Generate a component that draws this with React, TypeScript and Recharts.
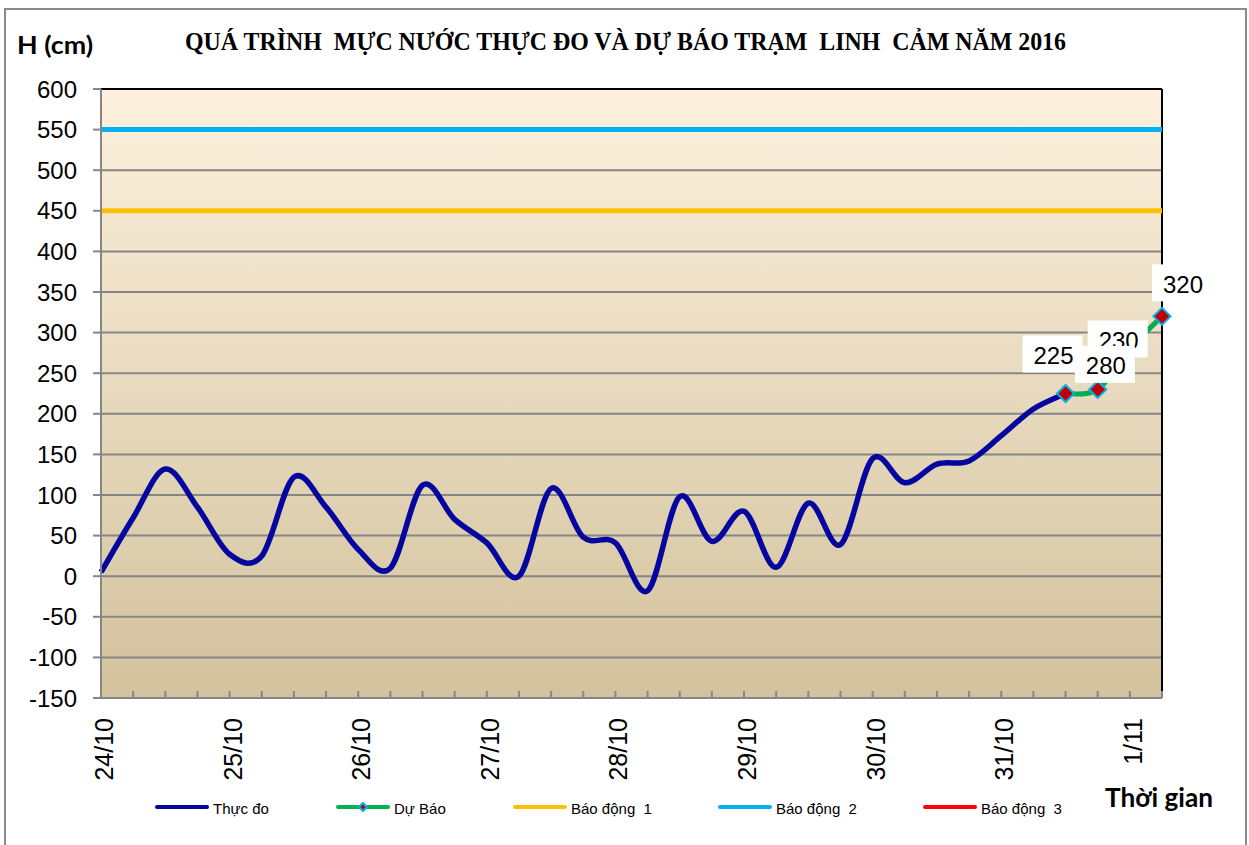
import React from "react";
import {
  LineChart, Line, XAxis, YAxis, CartesianGrid, ReferenceLine, LabelList,
} from "recharts";

// mốc ngày trên trục hoành, 4 lần đo mỗi ngày
const days = ["24/10", "25/10", "26/10", "27/10", "28/10", "29/10", "30/10", "31/10", "1/11"];
const readingsPerDay = 4;

// mực nước thực đo (cm)
const thucDo = [
  5, 72, 132, 85, 27, 25, 122, 85, 33, 10, 112, 70, 41, 0, 108, 48,
  41, -18, 98, 43, 80, 11, 90, 39, 145, 115, 138, 142, 173, 206, 225,
];
// dự báo, nối tiếp từ lần đo cuối
const duBao = [225, 230, 280, 320];

const baoDong1 = 450;
const baoDong2 = 550;
const baoDong3 = 650;

const yTicks = [-150, -100, -50, 0, 50, 100, 150, 200, 250, 300, 350, 400, 450, 500, 550, 600];

const nPoints = thucDo.length - 1 + duBao.length;
const data = Array.from({ length: nPoints }, (_, i) => ({
  i,
  thucDo: i < thucDo.length ? thucDo[i] : null,
  duBao: i >= thucDo.length - 1 ? duBao[i - thucDo.length + 1] : null,
  bd1: baoDong1,
  bd2: baoDong2,
  bd3: baoDong3,
}));
const xTicks = data.map((d) => d.i);

const SERIES = [
  { key: "thucDo", name: "Thực đo", color: "#0505A0" },
  { key: "duBao", name: "Dự Báo", color: "#00B050" },
  { key: "bd1", name: "Báo động  1", color: "#FFC000" },
  { key: "bd2", name: "Báo động  2", color: "#00B0F0" },
  { key: "bd3", name: "Báo động  3", color: "#FF0000" },
];
const legendX = [157, 338, 515, 720, 925];

// label placement tweaks (like the hand-moved Excel labels)
const labelShift: Record<number, [number, number]> = {
  0: [-12, -38],
  1: [21, -49],
  2: [-24, 17],
  3: [21, -32],
};

const FONT = "'Liberation Sans', Arial, sans-serif";
const GRID = "#868686";

// Excel style smoothing (cardinal spline, tension 0)
const excelCurve = (context: any) => {
  let pts: [number, number][] = [];
  return {
    areaStart() {},
    areaEnd() {},
    lineStart() { pts = []; },
    lineEnd() {
      if (!pts.length) return;
      context.moveTo(pts[0][0], pts[0][1]);
      for (let k = 0; k < pts.length - 1; k++) {
        const p0 = pts[Math.max(0, k - 1)];
        const p1 = pts[k];
        const p2 = pts[k + 1];
        const p3 = pts[Math.min(pts.length - 1, k + 2)];
        context.bezierCurveTo(
          p1[0] + (p2[0] - p0[0]) / 6, p1[1] + (p2[1] - p0[1]) / 6,
          p2[0] - (p3[0] - p1[0]) / 6, p2[1] - (p3[1] - p1[1]) / 6,
          p2[0], p2[1],
        );
      }
    },
    point(x: number, y: number) { pts.push([x, y]); },
  };
};

const Diamond = ({ cx, cy, r = 8.5 }: { cx: number; cy: number; r?: number }) => (
  <polygon
    points={`${cx},${cy - r} ${cx + r},${cy} ${cx},${cy + r} ${cx - r},${cy}`}
    fill="#C00000"
    stroke="#00B0F0"
    strokeWidth={2}
  />
);

const renderDot = (p: any) => {
  if (p.cy == null || p.value == null || p.payload?.duBao == null) return <g key={p.key ?? p.index} />;
  return <Diamond key={p.key ?? p.index} cx={p.cx} cy={p.cy} />;
};

const renderLabel = (p: any) => {
  const x = p.x ?? p.viewBox?.x;
  const y = p.y ?? p.viewBox?.y;
  if (p.value == null || x == null || y == null) return null;
  const idx = duBao.indexOf(Number(p.value));
  const [dx, dy] = labelShift[idx] ?? [0, -30];
  const cx = x + dx;
  const cy = y + dy;
  return (
    <g key={`lbl-${p.index}`}>
      <rect x={cx - 31} y={cy - 20} width={60} height={37} fill="#fff" />
      <text x={cx} y={cy + 8.5} textAnchor="middle" fontSize={24} fontFamily={FONT} fill="#000">
        {p.value}
      </text>
    </g>
  );
};

const XTick = ({ x, y, payload }: any) => {
  const i = payload.value;
  const lbl = i % readingsPerDay === 0 ? days[i / readingsPerDay] : null;
  return (
    <g>
      <line x1={x} x2={x} y1={y} y2={y - 7} stroke={GRID} strokeWidth={2} />
      {lbl && (
        <text
          transform={`translate(${x + 12}, ${y + 20}) rotate(-90)`}
          textAnchor="end"
          fontSize={25}
          fontFamily={FONT}
          fill="#000"
        >
          {lbl}
        </text>
      )}
    </g>
  );
};

export default function App() {
  return (
    <div style={{ position: "absolute", left: 0, top: 0, width: 1249, height: 845, background: "#fff", overflow: "hidden" }}>
      <div style={{ position: "absolute", left: 4, top: 8, width: 1239, height: 850, border: "2px solid #8a8a8a" }} />
      <div style={{ position: "absolute", left: 0, top: 0 }}>
        <LineChart width={1249} height={845} data={data} margin={{ top: 89, right: 87, bottom: 0, left: 0 }}>
          <defs>
            <linearGradient id="plotBg" x1="0" y1="0" x2="0" y2="1">
              <stop offset="0%" stopColor="#FDF1DE" />
              <stop offset="100%" stopColor="#D2C29D" />
            </linearGradient>
          </defs>
          <CartesianGrid vertical={false} stroke={GRID} strokeWidth={2} fill="url(#plotBg)" fillOpacity={1} />
          <XAxis
            type="number"
            dataKey="i"
            domain={[0, nPoints - 1]}
            ticks={xTicks}
            interval={0}
            height={147}
            tickSize={0}
            tickMargin={0}
            tickLine={false}
            axisLine={{ stroke: GRID, strokeWidth: 2 }}
            tick={<XTick />}
          />
          <YAxis
            domain={[-150, 600]}
            ticks={yTicks}
            interval={0}
            width={101}
            tickSize={8}
            tickMargin={16}
            tickLine={{ stroke: GRID, strokeWidth: 2 }}
            axisLine={{ stroke: GRID, strokeWidth: 2 }}
            tick={{ fontSize: 24, fill: "#000", fontFamily: FONT }}
          />
          <YAxis yAxisId="bd3" hide domain={[-150, 600]} allowDataOverflow />
          <ReferenceLine y={600} stroke="#000" strokeWidth={2} />
          <ReferenceLine x={nPoints - 1} stroke="#000" strokeWidth={2} />
          <Line dataKey="bd1" name={SERIES[2].name} stroke={SERIES[2].color} strokeWidth={5} dot={false} isAnimationActive={false} />
          <Line dataKey="bd2" name={SERIES[3].name} stroke={SERIES[3].color} strokeWidth={5} dot={false} isAnimationActive={false} />
          <Line yAxisId="bd3" dataKey="bd3" name={SERIES[4].name} stroke={SERIES[4].color} strokeWidth={5} dot={false} isAnimationActive={false} />
          <Line dataKey="thucDo" name={SERIES[0].name} type={excelCurve as any} stroke={SERIES[0].color} strokeWidth={5.5} dot={false} isAnimationActive={false} />
          <Line dataKey="duBao" name={SERIES[1].name} type={excelCurve as any} stroke={SERIES[1].color} strokeWidth={5} dot={renderDot} isAnimationActive={false}>
            <LabelList dataKey="duBao" content={renderLabel} />
          </Line>
        </LineChart>
      </div>
      <svg width={1249} height={845} style={{ position: "absolute", left: 0, top: 0, pointerEvents: "none" }}>
        <text x={185} y={50} fontSize={26} fontWeight="bold" fontFamily="'Liberation Serif', 'Times New Roman', serif"
          textLength={881} lengthAdjust="spacingAndGlyphs" style={{ whiteSpace: "pre" }}>
          QUÁ TRÌNH  MỰC NƯỚC THỰC ĐO VÀ DỰ BÁO TRẠM  LINH  CẢM NĂM 2016
        </text>
        <text x={17} y={54} fontSize={25} fontWeight="bold" fontFamily="Lato, 'Open Sans', sans-serif"
          textLength={76} lengthAdjust="spacingAndGlyphs">
          H (cm)
        </text>
        <text x={1105} y={807} fontSize={26} fontWeight="bold" fontFamily="Lato, 'Open Sans', sans-serif"
          textLength={108} lengthAdjust="spacingAndGlyphs">
          Thời gian
        </text>
        {SERIES.map((s, k) => {
          const lx = legendX[k];
          return (
            <g key={s.key}>
              <line x1={lx} x2={lx + 50} y1={807} y2={807} stroke={s.color} strokeWidth={4} strokeLinecap="round" />
              {s.key === "duBao" && <Diamond cx={lx + 25} cy={807} r={4} />}
              <text x={lx + 56} y={814} fontSize={15} fontFamily={FONT} fill="#000" style={{ whiteSpace: "pre" }}>
                {s.name}
              </text>
            </g>
          );
        })}
      </svg>
    </div>
  );
}
